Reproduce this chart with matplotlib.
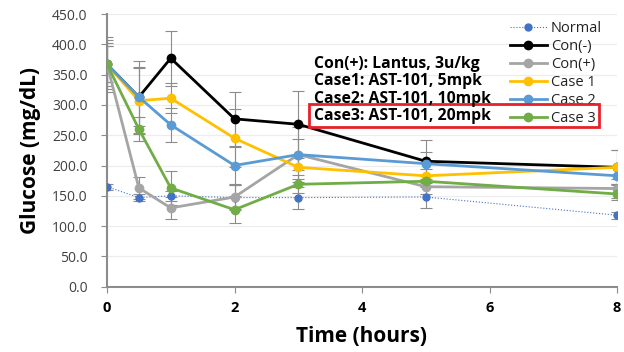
import matplotlib
matplotlib.use("Agg")
import matplotlib.pyplot as plt
from matplotlib.patches import Rectangle

plt.rcParams['font.family'] = ['Open Sans', 'DejaVu Sans']

# sampling times (hours)
time_h = [0, 0.5, 1, 2, 3, 5, 8]

# mean glucose (mg/dL)
normal = [165, 147, 150, 147, 147, 148, 118]
con_neg = [367, 313, 377, 277, 268, 207, 197]
con_pos = [367, 163, 130, 148, 218, 165, 162]
case1 = [367, 307, 311, 245, 197, 183, 197]
case2 = [367, 313, 267, 200, 218, 203, 183]
case3 = [367, 260, 163, 127, 169, 174, 153]

# error bars
normal_err = [5, 6, 8, 20, 18, 18, 6]
con_neg_err = [45, 60, 45, 45, 55, 35, 28]
con_pos_err = [40, 18, 18, 20, 45, 12, 15]
case1_err = [30, 55, 25, 48, 20, 12, 28]
case2_err = [35, 48, 28, 30, 25, 20, 15]
case3_err = [30, 20, 28, 22, 15, 10, 10]

series_names = ["Normal", "Con(-)", "Con(+)", "Case 1", "Case 2", "Case 3"]
notes = ["Con(+): Lantus, 3u/kg",
         "Case1: AST-101, 5mpk",
         "Case2: AST-101, 10mpk",
         "Case3: AST-101, 20mpk"]

W, H = 624, 352
fig = plt.figure(figsize=(W / 100, H / 100), dpi=100)
ax = fig.add_axes([107 / W, 1 - 286.7 / H, (617 - 107) / W, (286.7 - 14) / H])

data = [normal, con_neg, con_pos, case1, case2, case3]
errs = [normal_err, con_neg_err, con_pos_err, case1_err, case2_err, case3_err]
colors = ["#4472C4", "#000000", "#A5A5A5", "#FFC000", "#5B9BD5", "#70AD47"]

for name, y, e, c in zip(series_names, data, errs, colors):
    ax.errorbar(time_h, y, yerr=e, fmt="none", ecolor="#8c8c8c",
                elinewidth=0.8, capsize=4, capthick=0.8, zorder=2)
    if name == "Normal":
        ax.plot(time_h, y, color=c, lw=0.8, ls=":", marker="o", ms=5,
                label=name, zorder=3)
    else:
        ax.plot(time_h, y, color=c, lw=2, marker="o", ms=6,
                label=name, zorder=3)

ax.set_xlim(0, 8)
ax.set_ylim(0, 450)
ax.set_xticks([0, 2, 4, 6, 8])
ax.set_yticks(range(0, 451, 50))
ax.set_yticklabels([f"{v:.1f}" for v in range(0, 451, 50)])
ax.grid(axis="y", color="#ececec", lw=0.8)
ax.set_axisbelow(True)
for s in ["top", "right"]:
    ax.spines[s].set_visible(False)
for s in ["left", "bottom"]:
    ax.spines[s].set_color("#8c8c8c")
    ax.spines[s].set_linewidth(1.5)
ax.tick_params(axis="y", labelsize=10, length=4, pad=10, color="#8c8c8c",
               labelcolor="#404040")
ax.tick_params(axis="x", labelsize=10.5, length=4, color="#8c8c8c", pad=6)
for t in ax.get_xticklabels():
    t.set_fontweight("bold")

ax.set_xlabel("Time (hours)", fontsize=15, fontweight="bold", labelpad=8)
ax.set_ylabel("Glucose (mg/dL)", fontsize=15, fontweight="bold", labelpad=8)

ax.legend(loc="upper right", bbox_to_anchor=(0.985, 1.0), frameon=False,
          fontsize=10.5, handlelength=2.5, handletextpad=0.3,
          labelspacing=0.2, borderaxespad=0.1, labelcolor="#222222")

for i, s in enumerate(notes):
    fig.text(314 / W, 1 - (64 + 17.4 * i) / H, s, fontsize=11.3,
             fontweight="bold", va="center", ha="left")

fig.patches.append(Rectangle((309 / W, 1 - 127 / H), (599 - 309) / W,
                             23 / H, transform=fig.transFigure, fill=False,
                             edgecolor="#e8202a", lw=2))

fig.savefig("out.png", dpi=100)
